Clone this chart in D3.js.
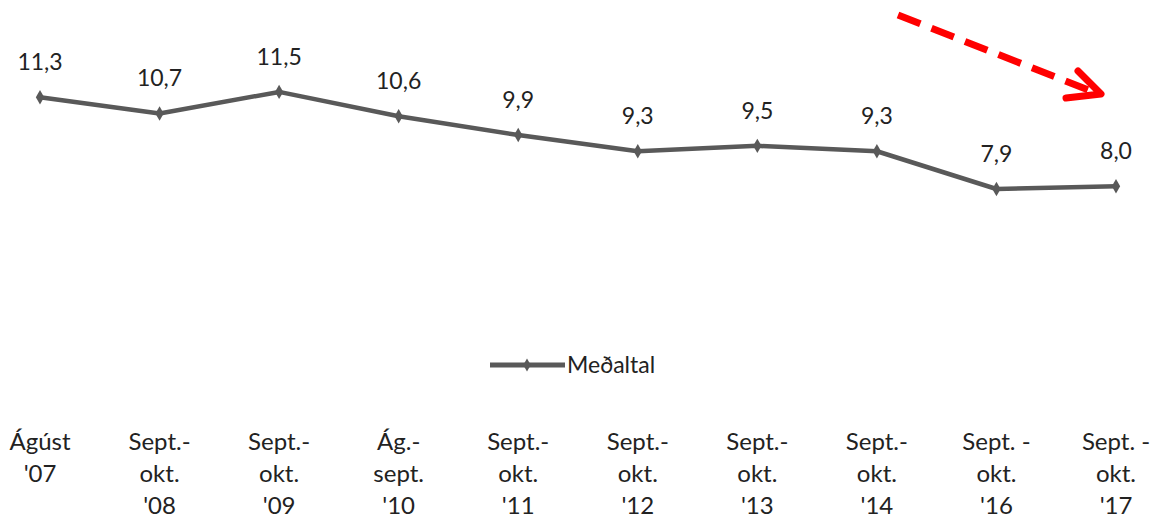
<!DOCTYPE html>
<html>
<head>
<meta charset="utf-8">
<script src="https://cdn.jsdelivr.net/npm/d3@7"></script>
<style>
  body { margin: 0; background: #fff; }
  text { font-family: Lato, "Open Sans", sans-serif; fill: #222; }
</style>
</head>
<body>
<svg id="chart" width="1156" height="523"></svg>
<script>
// data
var categories = [
  ["Ágúst", "'07"],
  ["Sept.-", "okt.", "'08"],
  ["Sept.-", "okt.", "'09"],
  ["Ág.-", "sept.", "'10"],
  ["Sept.-", "okt.", "'11"],
  ["Sept.-", "okt.", "'12"],
  ["Sept.-", "okt.", "'13"],
  ["Sept.-", "okt.", "'14"],
  ["Sept. -", "okt.", "'16"],
  ["Sept. -", "okt.", "'17"]
];
var values = [11.3, 10.7, 11.5, 10.6, 9.9, 9.3, 9.5, 9.3, 7.9, 8.0];
var seriesName = "Meðaltal";

var svg = d3.select("#chart");
var lineColor = "#595959";

var x = d3.scalePoint()
    .domain(d3.range(values.length))
    .range([40, 1116]);

var y = d3.scaleLinear()
    .domain([0, 14])
    .range([402, 24.5]);

var fmt = function(v) { return d3.format(".1f")(v).replace(".", ","); };

// the line
var line = d3.line()
    .x(function(d, i) { return x(i); })
    .y(function(d) { return y(d); });

svg.append("path")
    .datum(values)
    .attr("fill", "none")
    .attr("stroke", lineColor)
    .attr("stroke-width", 4.5)
    .attr("stroke-linejoin", "round")
    .attr("d", line);

// diamond markers
svg.selectAll(".marker")
    .data(values)
    .enter()
    .append("path")
    .attr("class", "marker")
    .attr("transform", function(d, i) { return "translate(" + x(i) + "," + y(d) + ")"; })
    .attr("d", d3.symbol().type(d3.symbolDiamond).size(60))
    .attr("fill", lineColor);

// value labels
svg.selectAll(".val")
    .data(values)
    .enter()
    .append("text")
    .attr("class", "val")
    .attr("x", function(d, i) { return x(i); })
    .attr("y", function(d) { return y(d) - 27; })
    .attr("text-anchor", "middle")
    .attr("font-size", 23)
    .text(fmt);

// category labels
var cat = svg.selectAll(".cat")
    .data(categories)
    .enter()
    .append("text")
    .attr("class", "cat")
    .attr("text-anchor", "middle")
    .attr("font-size", 24);

cat.selectAll("tspan")
    .data(function(d, i) { return d.map(function(t) { return { t: t, i: i }; }); })
    .enter()
    .append("tspan")
    .attr("x", function(d) { return x(d.i); })
    .attr("y", function(d, j) { return 450 + j * 32; })
    .text(function(d) { return d.t; });

// legend
var lg = svg.append("g").attr("transform", "translate(490,365)");
lg.append("line")
    .attr("x1", 0).attr("x2", 75)
    .attr("stroke", lineColor)
    .attr("stroke-width", 5);
lg.append("path")
    .attr("transform", "translate(37,0)")
    .attr("d", d3.symbol().type(d3.symbolDiamond).size(50))
    .attr("fill", lineColor);
lg.append("text")
    .attr("x", 77)
    .attr("y", 8)
    .attr("font-size", 23)
    .text(seriesName);

// red dashed trend arrow
svg.append("line")
    .attr("x1", 898).attr("y1", 15)
    .attr("x2", 1096).attr("y2", 93)
    .attr("stroke", "#f00")
    .attr("stroke-width", 7)
    .attr("stroke-dasharray", "24,12");
svg.append("path")
    .attr("d", "M1078,71 L1101,94 L1066,98")
    .attr("fill", "none")
    .attr("stroke", "#f00")
    .attr("stroke-width", 7)
    .attr("stroke-linecap", "round")
    .attr("stroke-linejoin", "round");
</script>
</body>
</html>
